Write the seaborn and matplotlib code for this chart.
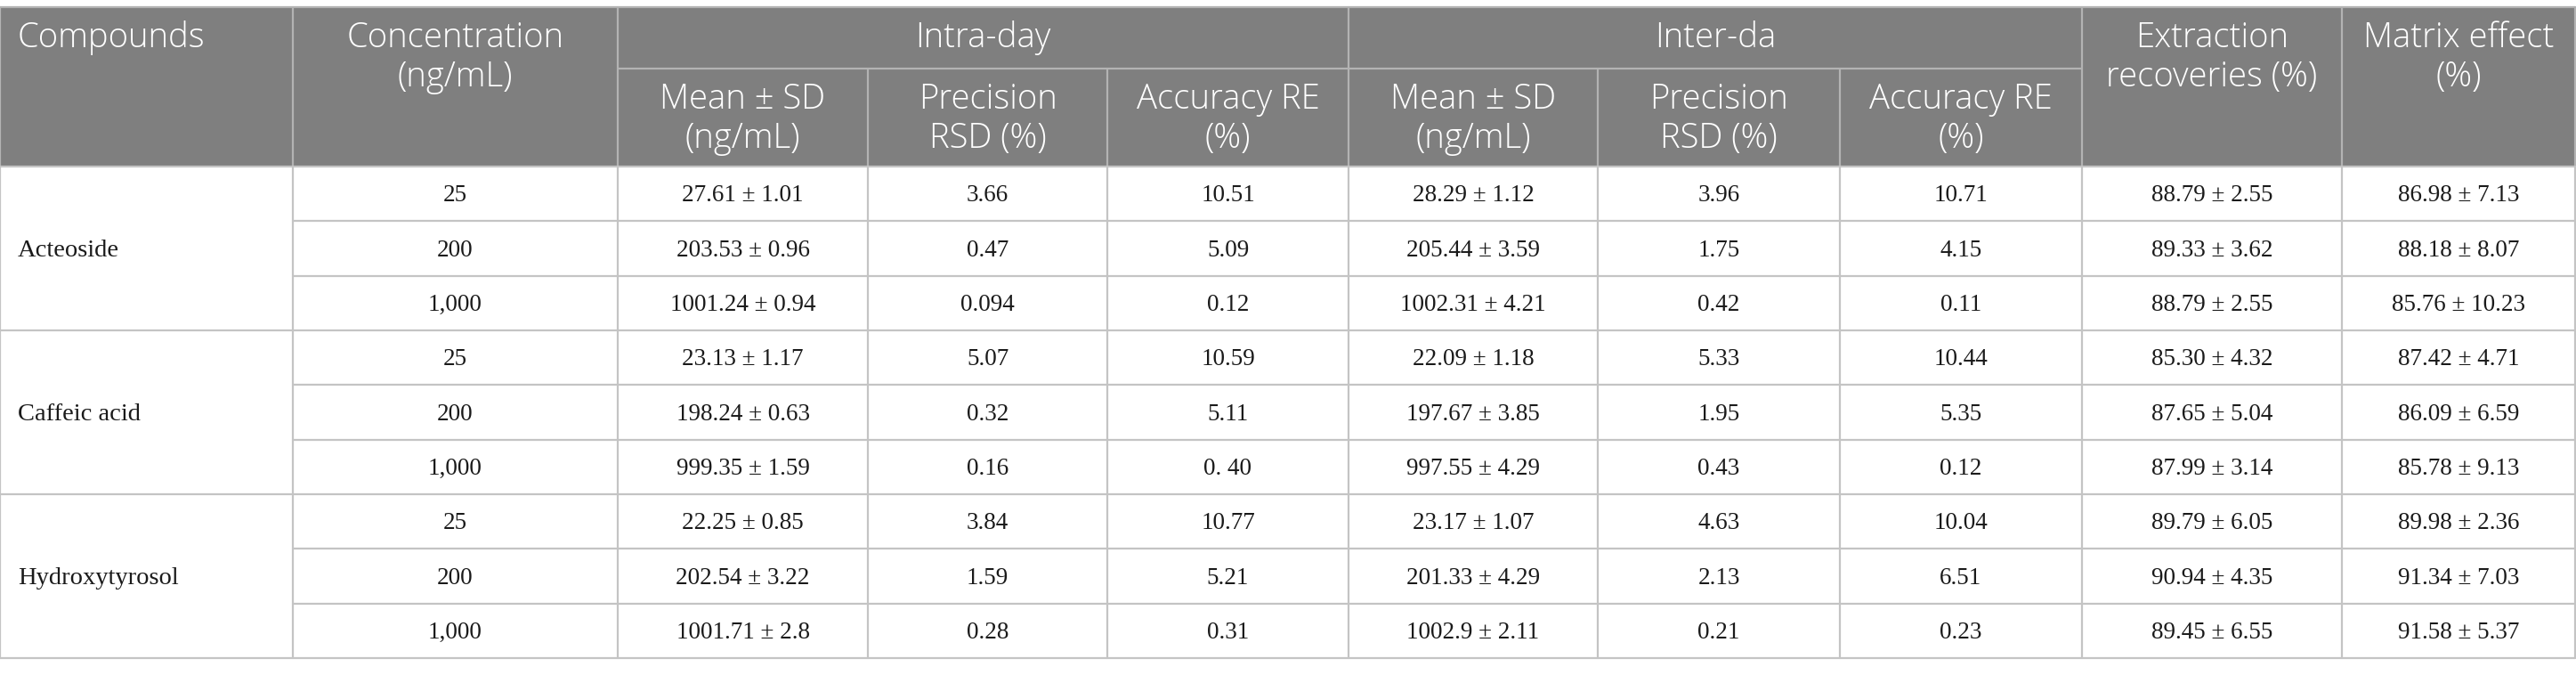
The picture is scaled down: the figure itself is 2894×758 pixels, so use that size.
import matplotlib
matplotlib.use("Agg")
import matplotlib.pyplot as plt
import seaborn as sns
import pandas as pd

# ---------------- data ----------------
compounds = ["Acteoside", "Caffeic acid", "Hydroxytyrosol"]
concentrations = ["25", "200", "1,000"]

intra_mean_sd = ["27.61 ± 1.01", "203.53 ± 0.96", "1001.24 ± 0.94",
                 "23.13 ± 1.17", "198.24 ± 0.63", "999.35 ± 1.59",
                 "22.25 ± 0.85", "202.54 ± 3.22", "1001.71 ± 2.8"]
intra_rsd = ["3.66", "0.47", "0.094", "5.07", "0.32", "0.16", "3.84", "1.59", "0.28"]
intra_re = ["10.51", "5.09", "0.12", "10.59", "5.11", "0. 40", "10.77", "5.21", "0.31"]
inter_mean_sd = ["28.29 ± 1.12", "205.44 ± 3.59", "1002.31 ± 4.21",
                 "22.09 ± 1.18", "197.67 ± 3.85", "997.55 ± 4.29",
                 "23.17 ± 1.07", "201.33 ± 4.29", "1002.9 ± 2.11"]
inter_rsd = ["3.96", "1.75", "0.42", "5.33", "1.95", "0.43", "4.63", "2.13", "0.21"]
inter_re = ["10.71", "4.15", "0.11", "10.44", "5.35", "0.12", "10.04", "6.51", "0.23"]
extraction = ["88.79 ± 2.55", "89.33 ± 3.62", "88.79 ± 2.55",
              "85.30 ± 4.32", "87.65 ± 5.04", "87.99 ± 3.14",
              "89.79 ± 6.05", "90.94 ± 4.35", "89.45 ± 6.55"]
matrix = ["86.98 ± 7.13", "88.18 ± 8.07", "85.76 ± 10.23",
          "87.42 ± 4.71", "86.09 ± 6.59", "85.78 ± 9.13",
          "89.98 ± 2.36", "91.34 ± 7.03", "91.58 ± 5.37"]

top_headers = ["Compounds", "Concentration\n(ng/mL)", "Intra-day", "Inter-da",
               "Extraction\nrecoveries (%)", "Matrix effect\n(%)"]
sub_headers = ["Mean ± SD\n(ng/mL)", "Precision\nRSD (%)", "Accuracy RE\n(%)"]

df = pd.DataFrame({
    "conc": concentrations * len(compounds),
    "intra_mean": intra_mean_sd, "intra_rsd": intra_rsd, "intra_re": intra_re,
    "inter_mean": inter_mean_sd, "inter_rsd": inter_rsd, "inter_re": inter_re,
    "extr": extraction, "matrix": matrix,
})

# ---------------- layout ----------------
W, H = 2894, 758
col_edges = [0, 329, 694, 975, 1244, 1515, 1795, 2067, 2339, 2631, 2893]
top = 8
h1 = 77
hbot = 187
row_h = (739 - hbot) / 9.0

sns.set_theme(style="white")
plt.rcParams["font.family"] = ["Liberation Serif", "DejaVu Serif"]

fig = plt.figure(figsize=(W / 100, H / 100), dpi=100)
ax = fig.add_axes([0, 0, 1, 1])
ax.set_xlim(0, W)
ax.set_ylim(H, 0)
ax.axis("off")

header_bg = "#7f7f7f"
header_line = "#b3b3b3"
body_line = "#c4c4c4"
lw = 1.6

ax.fill_between([col_edges[0], col_edges[-1]], top, hbot, color=header_bg, lw=0, zorder=0)

hfont = dict(family=["Open Sans", "DejaVu Sans"], fontweight="light", color="white", fontsize=27.5)
bfont = dict(family=["Liberation Serif", "DejaVu Serif"], color="#1a1a1a", fontsize=19.5)
nfont = dict(bfont, fontsize=20.5)

def cx(i):
    return (col_edges[i] + col_edges[i + 1]) / 2

line_gap = 44
y1 = 43
ax.text(col_edges[0] + 20, y1, top_headers[0], ha="left", va="center", **hfont)
for k, part in enumerate(top_headers[1].split("\n")):
    ax.text(cx(1), y1 + k * line_gap, part, ha="center", va="center", **hfont)
ax.text((col_edges[2] + col_edges[5]) / 2, y1, top_headers[2], ha="center", va="center", **hfont)
ax.text((col_edges[5] + col_edges[8]) / 2, y1, top_headers[3], ha="center", va="center", **hfont)
for ci, txt in [(8, top_headers[4]), (9, top_headers[5])]:
    for k, part in enumerate(txt.split("\n")):
        ax.text(cx(ci), y1 + k * line_gap, part, ha="center", va="center", **hfont)
for g in range(2):
    for j, txt in enumerate(sub_headers):
        ci = 2 + g * 3 + j
        for k, part in enumerate(txt.split("\n")):
            ax.text(cx(ci), 112 + k * line_gap, part, ha="center", va="center", **hfont)

ax.plot([col_edges[0], col_edges[-1]], [top, top], color=header_line, lw=lw, zorder=2)
ax.plot([col_edges[2], col_edges[8]], [h1, h1], color=header_line, lw=lw, zorder=2)
for i in [0, 1, 2, 5, 8, 9, 10]:
    ax.plot([col_edges[i], col_edges[i]], [top, hbot], color=header_line, lw=lw, zorder=2)
for i in [3, 4, 6, 7]:
    ax.plot([col_edges[i], col_edges[i]], [h1, hbot], color=header_line, lw=lw, zorder=2)

cols = ["conc", "intra_mean", "intra_rsd", "intra_re", "inter_mean", "inter_rsd",
        "inter_re", "extr", "matrix"]
nrows = len(df)
for r in range(nrows):
    y0 = hbot + r * row_h
    yc = y0 + row_h / 2 + 2
    for j, c in enumerate(cols):
        ax.text(cx(j + 1), yc, df[c].iloc[r], ha="center", va="center", **bfont)
    x_start = col_edges[0] if (r + 1) % 3 == 0 else col_edges[1]
    ax.plot([x_start, col_edges[-1]], [y0 + row_h, y0 + row_h], color=body_line, lw=lw, zorder=2)

for g, name in enumerate(compounds):
    yc = hbot + (g * 3 + 1.5) * row_h + 2
    ax.text(col_edges[0] + 20, yc, name, ha="left", va="center", **nfont)

ybot = hbot + nrows * row_h
ax.plot([col_edges[0], col_edges[-1]], [hbot, hbot], color=body_line, lw=lw, zorder=2)
for x in col_edges:
    ax.plot([x, x], [hbot, ybot], color=body_line, lw=lw, zorder=2)

fig.savefig("out.png", dpi=100, facecolor="white")
